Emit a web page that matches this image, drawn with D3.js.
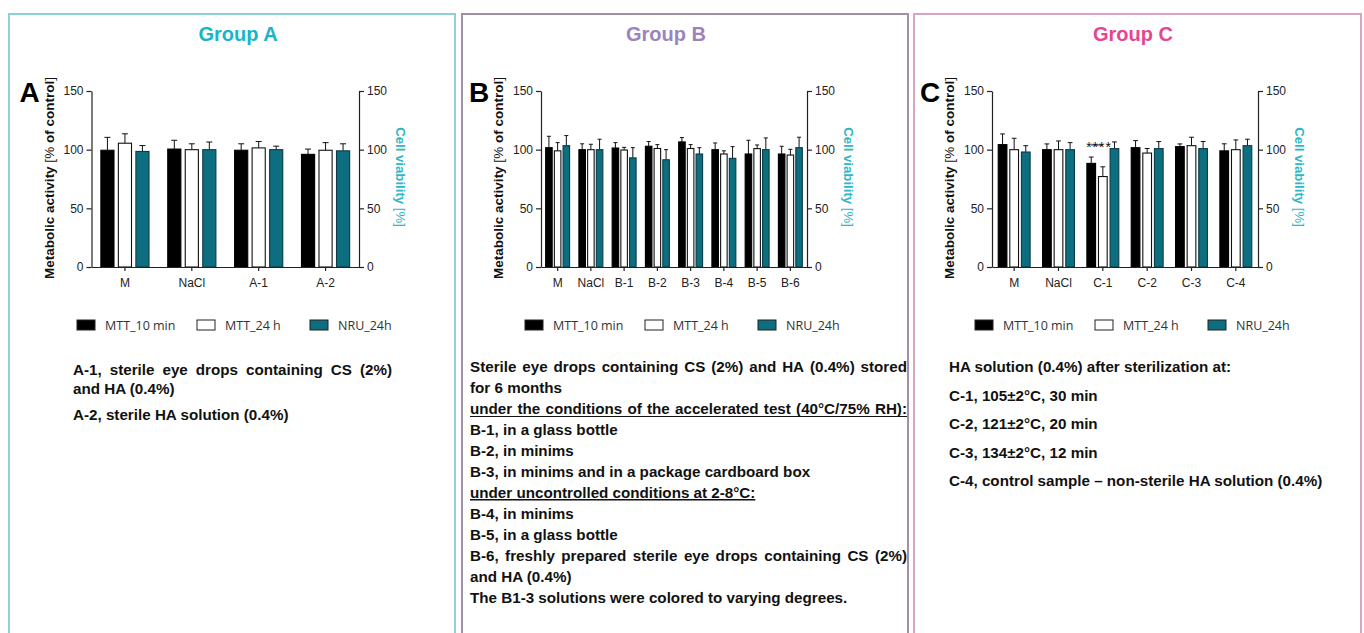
<!DOCTYPE html>
<html>
<head>
<meta charset="utf-8">
<script src="https://cdn.jsdelivr.net/npm/d3@7"></script>
<style>
  body { margin: 0; background: #fff; }
  svg { display: block; }
</style>
</head>
<body>
<svg id="fig" width="1364" height="633"></svg>
<script>
// Assays shown in every group
const seriesNames = ["MTT_10 min", "MTT_24 h", "NRU_24h"];
const yTicks = [0, 50, 100, 150];

// Group A: means and SD (% of control)
const catsA = ["M", "NaCl", "A-1", "A-2"];
const mtt10A = [99.5, 100.5, 99.5, 96];
const mtt10A_sd = [11, 7.5, 5.5, 4.5];
const mtt24A = [105.5, 100, 101.5, 99.5];
const mtt24A_sd = [8, 5, 5.5, 6.5];
const nruA = [98.5, 100, 100, 99];
const nruA_sd = [5, 6.5, 3, 6];

// Group B
const catsB = ["M", "NaCl", "B-1", "B-2", "B-3", "B-4", "B-5", "B-6"];
const mtt10B = [101.7, 100, 101.4, 102.9, 106.6, 100, 96.3, 96.3];
const mtt10B_sd = [9.7, 5, 4.6, 4, 3.7, 5.7, 11.7, 6.6];
const mtt24B = [99, 100, 99.7, 101, 101, 96.3, 100.9, 95.4];
const mtt24B_sd = [7, 4.6, 2.3, 3.3, 3.3, 2.7, 3.1, 4.9];
const nruB = [103.4, 100, 93, 91.4, 96.3, 92.6, 100, 101.7];
const nruB_sd = [8.6, 8.9, 8.7, 8.6, 5.4, 10, 10, 8.9];

// Group C
const catsC = ["M", "NaCl", "C-1", "C-2", "C-3", "C-4"];
const mtt10C = [104.3, 100, 88.3, 101.7, 102.6, 99];
const mtt10C_sd = [9.1, 4.9, 5.4, 6, 2.3, 6];
const mtt24C = [100, 100, 77.1, 97.1, 103.4, 100];
const mtt24C_sd = [9.7, 7.4, 8.3, 3.9, 7.2, 8.3];
const nruC = [98, 100, 100.9, 100.9, 100.9, 103.4];
const nruC_sd = [5.4, 6, 5.7, 6, 6.1, 5.5];
// MTT_10 min vs MTT_24 h comparison for C-1
const sigC = { cat: "C-1", label: "****", level: 104 };

// Descriptions under each chart
const notesA = [
  [{ text: "A-1, sterile eye drops containing CS (2%)", justify: true }, { text: "and HA (0.4%)" }],
  [{ text: "A-2, sterile HA solution (0.4%)" }]
];
const notesB = [[
  { text: "Sterile eye drops containing CS (2%) and HA (0.4%) stored", justify: true },
  { text: "for 6 months" },
  { text: "under the conditions of the accelerated test (40°C/75% RH):", underline: true, justify: true },
  { text: "B-1, in a glass bottle" },
  { text: "B-2, in minims" },
  { text: "B-3, in minims and in a package cardboard box" },
  { text: "under uncontrolled conditions at 2-8°C:", underline: true },
  { text: "B-4, in minims" },
  { text: "B-5, in a glass bottle" },
  { text: "B-6, freshly prepared sterile eye drops containing CS (2%)", justify: true },
  { text: "and HA (0.4%)" },
  { text: "The B1-3 solutions were colored to varying degrees." }
]];
const notesC = [
  [{ text: "HA solution (0.4%) after sterilization at:" }],
  [{ text: "C-1, 105±2°C, 30 min" }],
  [{ text: "C-2, 121±2°C, 20 min" }],
  [{ text: "C-3, 134±2°C, 12 min" }],
  [{ text: "C-4, control sample \u2013 non-sterile HA solution (0.4%)" }]
];

const panels = [
  { id: "A", title: "Group A", cats: catsA,
    means: [mtt10A, mtt24A, nruA], sds: [mtt10A_sd, mtt24A_sd, nruA_sd], notes: notesA, sig: null,
    x0: 9, x1: 455, titleX: 238, border: "#8fcfd6", titleColor: "#17b5c9",
    axL: 91.5, axR: 359, legendX: 77, textX: 73, textW: 319, firstY: 375, lineH: 18.5, paraGap: 8 },
  { id: "B", title: "Group B", cats: catsB,
    means: [mtt10B, mtt24B, nruB], sds: [mtt10B_sd, mtt24B_sd, nruB_sd], notes: notesB, sig: null,
    x0: 462, x1: 908, titleX: 666, border: "#a48fa8", titleColor: "#9a84c0",
    axL: 541, axR: 807, legendX: 525, textX: 470, textW: 437, firstY: 372, lineH: 21, paraGap: 0 },
  { id: "C", title: "Group C", cats: catsC,
    means: [mtt10C, mtt24C, nruC], sds: [mtt10C_sd, mtt24C_sd, nruC_sd], notes: notesC, sig: sigC,
    x0: 914, x1: 1361, titleX: 1133, border: "#d9a5c7", titleColor: "#e6468f",
    axL: 992, axR: 1258, legendX: 975, textX: 949, textW: 380, firstY: 372, lineH: 19, paraGap: 9.5 }
];

const fills = ["#000000", "#ffffff", "#0d6e80"];
const strokes = ["#000000", "#111111", "#0a3c46"];
const yTop = 91, yBottom = 267;
const FONT = "'Liberation Sans', Arial, sans-serif";

const svg = d3.select("#fig");
svg.append("rect").attr("width", 1364).attr("height", 633).attr("fill", "#fff");

panels.forEach(p => {
  const g = svg.append("g");

  // frame and heading
  g.append("rect")
    .attr("x", p.x0).attr("y", 14)
    .attr("width", p.x1 - p.x0).attr("height", 640)
    .attr("fill", "none").attr("stroke", p.border).attr("stroke-width", 2);
  g.append("text")
    .attr("x", p.titleX).attr("y", 41)
    .attr("text-anchor", "middle")
    .attr("font-family", FONT).attr("font-weight", "bold").attr("font-size", 20)
    .attr("fill", p.titleColor)
    .text(p.title);

  // scales
  const y = d3.scaleLinear().domain([0, 150]).range([yBottom, yTop]);
  const x = d3.scaleBand().domain(p.cats).range([p.axL, p.axR]).padding(0);
  const groupW = x.bandwidth() * 0.72;
  const inner = d3.scaleBand().domain(d3.range(seriesNames.length))
    .range([(x.bandwidth() - groupW) / 2, (x.bandwidth() + groupW) / 2])
    .paddingInner(0.25);
  const bw = inner.bandwidth();
  const capW = Math.max(4, Math.min(6, bw * 0.55));

  // bars with upper SD whiskers
  seriesNames.forEach((s, j) => {
    const sg = g.append("g");
    p.cats.forEach((c, i) => {
      const v = p.means[j][i], sd = p.sds[j][i];
      const bx = x(c) + inner(j);
      const cx = bx + bw / 2;
      sg.append("line")
        .attr("x1", cx).attr("x2", cx)
        .attr("y1", y(v)).attr("y2", y(v + sd))
        .attr("stroke", "#111").attr("stroke-width", 1);
      sg.append("line")
        .attr("x1", cx - capW / 2).attr("x2", cx + capW / 2)
        .attr("y1", y(v + sd)).attr("y2", y(v + sd))
        .attr("stroke", "#111").attr("stroke-width", 1);
      sg.append("rect")
        .attr("x", bx).attr("y", y(v))
        .attr("width", bw).attr("height", y(0) - y(v))
        .attr("fill", fills[j]).attr("stroke", strokes[j]).attr("stroke-width", 1.1);
    });
  });

  // axes
  const styleAxis = sel => {
    sel.attr("font-size", null).attr("font-family", null);
    sel.selectAll("path, line").attr("stroke", "#222").attr("stroke-width", 1.2);
    sel.selectAll("text").attr("font-family", FONT).attr("font-size", 12).attr("fill", "#222");
  };
  g.append("g").attr("transform", `translate(${p.axL},0)`)
    .call(d3.axisLeft(y).tickValues(yTicks).tickSize(5).tickSizeOuter(0).tickPadding(3))
    .call(styleAxis);
  g.append("g").attr("transform", `translate(${p.axR},0)`)
    .call(d3.axisRight(y).tickValues(yTicks).tickSize(5).tickSizeOuter(0).tickPadding(3))
    .call(styleAxis);
  g.append("g").attr("transform", `translate(0,${yBottom})`)
    .call(d3.axisBottom(x).tickSize(4).tickSizeOuter(0).tickPadding(7))
    .call(styleAxis);

  // axis titles
  const cy = (yTop + yBottom) / 2;
  const lt = g.append("text")
    .attr("transform", `translate(${p.axL - 38},${cy - 1}) rotate(-90)`)
    .attr("text-anchor", "middle").attr("font-family", FONT).attr("font-size", 13.5).attr("fill", "#111");
  lt.append("tspan").attr("font-weight", "bold").text("Metabolic activity ");
  lt.append("tspan").text("[% ");
  lt.append("tspan").attr("font-weight", "bold").text("of control");
  lt.append("tspan").text("]");

  const rt = g.append("text")
    .attr("transform", `translate(${p.axR + 37},${cy - 2}) rotate(90)`)
    .attr("text-anchor", "middle").attr("font-family", FONT).attr("font-size", 13.2).attr("fill", "#2bb7c7");
  rt.append("tspan").attr("font-weight", "bold").text("Cell viability ");
  rt.append("tspan").text("[%]");

  // panel letter
  g.append("text")
    .attr("x", p.axL - 72).attr("y", 102)
    .attr("font-family", FONT).attr("font-weight", "bold").attr("font-size", 28).attr("fill", "#000")
    .text(p.id);

  // significance marker
  if (p.sig) {
    const i0 = x(p.sig.cat) + inner(0) + bw / 2;
    const i1 = x(p.sig.cat) + inner(1) + bw / 2;
    const ly = y(p.sig.level);
    g.append("line").attr("x1", i0).attr("x2", i1).attr("y1", ly).attr("y2", ly)
      .attr("stroke", "#111").attr("stroke-width", 1);
    g.append("text")
      .attr("x", (i0 + i1) / 2 + 2).attr("y", ly + 7)
      .attr("text-anchor", "middle").attr("font-family", FONT).attr("font-size", 14)
      .attr("letter-spacing", 1).attr("fill", "#111")
      .text(p.sig.label);
  }

  // legend
  const legOff = [0, 120, 233];
  seriesNames.forEach((s, j) => {
    const lx = p.legendX + legOff[j];
    g.append("rect").attr("x", lx).attr("y", 320).attr("width", 18).attr("height", 10)
      .attr("fill", fills[j]).attr("stroke", "#222").attr("stroke-width", 1);
    g.append("text").attr("x", lx + 28).attr("y", 330)
      .attr("font-family", "'Open Sans', sans-serif").attr("font-size", 12.5).attr("fill", "#333")
      .text(s);
  });

  // notes
  let ty = p.firstY;
  p.notes.forEach((para, pi) => {
    if (pi > 0) ty += p.paraGap;
    para.forEach(line => {
      drawNote(g, p.textX, ty, p.textW, line);
      ty += p.lineH;
    });
  });
});

function drawNote(g, x0, yy, width, line) {
  const base = sel => sel.attr("y", yy)
    .attr("font-family", FONT).attr("font-weight", "bold").attr("font-size", 15.2).attr("fill", "#111");
  if (!line.justify) {
    const t = g.append("text").attr("x", x0).call(base).text(line.text);
    if (line.underline) t.attr("text-decoration", "underline");
    return;
  }
  const words = line.text.split(" ");
  const nodes = words.map(w => g.append("text").call(base).text(w));
  const widths = nodes.map(n => n.node().getComputedTextLength());
  const gap = (width - d3.sum(widths)) / (words.length - 1);
  let cx = x0;
  nodes.forEach((n, i) => {
    n.attr("x", cx);
    cx += widths[i] + gap;
  });
  if (line.underline) {
    g.append("line").attr("x1", x0).attr("x2", x0 + width)
      .attr("y1", yy + 2.5).attr("y2", yy + 2.5)
      .attr("stroke", "#111").attr("stroke-width", 1);
  }
}
</script>
</body>
</html>
